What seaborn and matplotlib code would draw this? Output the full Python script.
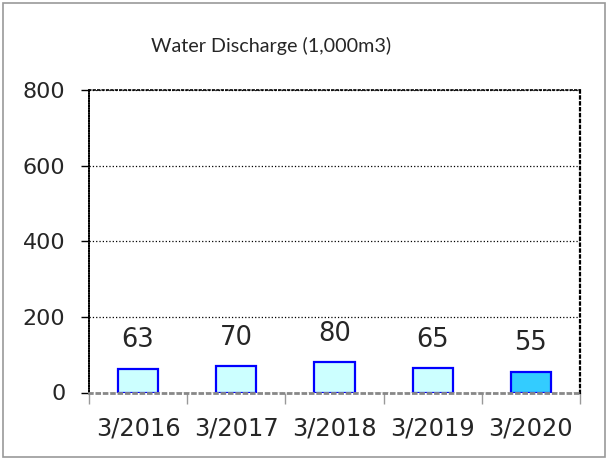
import matplotlib
matplotlib.use('Agg')
import numpy as np
import pandas as pd
import seaborn as sns
from matplotlib import pyplot as plt
from matplotlib.patches import Rectangle

# data
periods = ['3/2016', '3/2017', '3/2018', '3/2019', '3/2020']
discharge = [63, 70, 80, 65, 55]
bar_colors = ['#CCFFFF', '#CCFFFF', '#CCFFFF', '#CCFFFF', '#33CCFF']
y_ticks = [0, 200, 400, 600, 800]

sns.set_style('white')
plt.rcParams['font.family'] = ['DejaVu Sans']

df = pd.DataFrame({'period': periods, 'value': discharge})

fig = plt.figure(figsize=(6.06, 4.59), dpi=100)
ax = fig.add_axes([89 / 606, 1 - 392.5 / 459, (580 - 89) / 606, (392.5 - 90) / 459])

sns.barplot(df, x='period', y='value', hue='period', palette=bar_colors, saturation=1,
            width=0.41, edgecolor='#0000FF', linewidth=1.6, legend=False, ax=ax)

for bars in ax.containers:
    ax.bar_label(bars, fmt='%d', padding=11, fontsize=18.5)

ax.set_ylim(0, 800)
ax.set_xlim(-0.5, 4.5)
ax.set_yticks(y_ticks)
ax.set_xlabel('')
ax.set_ylabel('')
ax.tick_params(axis='y', labelsize=16, length=6, width=1, color='black', direction='out', pad=11, left=True)
ax.tick_params(axis='x', which='major', labelsize=17.3, length=0, pad=17)
ax.set_xticks(np.arange(-0.5, 5, 1), minor=True)
ax.tick_params(axis='x', which='minor', length=8, width=1, color='#999999', direction='out', bottom=True)

ax.yaxis.grid(True, linestyle=':', linewidth=0.9, color='black')
ax.set_axisbelow(True)

ax.spines['left'].set_color('black')
ax.spines['left'].set_linewidth(1.2)
ax.spines['left'].set_linestyle((0, (1, 0.5)))
ax.spines['top'].set_color('black')
ax.spines['top'].set_linewidth(1.2)
ax.spines['top'].set_linestyle(':')
ax.spines['right'].set_color('black')
ax.spines['right'].set_linewidth(1.6)
ax.spines['right'].set_linestyle(':')
ax.spines['bottom'].set_color('#888888')
ax.spines['bottom'].set_linewidth(2)
ax.spines['bottom'].set_linestyle(':')

fig.text(271 / 606, 1 - 46 / 459, 'Water Discharge (1,000m3)', ha='center', va='center',
         fontsize=14.2, family='Lato')

fig.patches.append(Rectangle((3 / 606, 2 / 459), 602 / 606, 454 / 459, transform=fig.transFigure,
                             fill=False, edgecolor='#999999', linewidth=1.2))

fig.savefig('out.png', dpi=100)
